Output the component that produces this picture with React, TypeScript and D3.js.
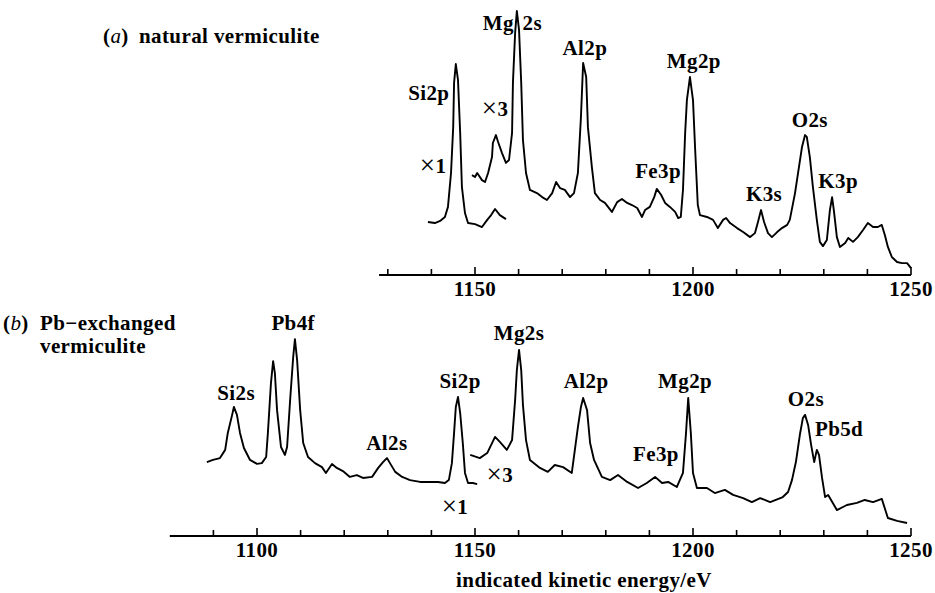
import * as d3 from "d3";

// kinetic energy (eV) vs intensity (a.u.)
// (a) natural vermiculite, x1 trace around Si2p
const natX1: [number, number][] = [
  [1139.2, 20.0], [1140.8, 19.6], [1142.0, 20.4], [1143.1, 21.9], [1143.8, 25.7],
  [1144.5, 38.5], [1145.0, 55.8], [1145.2, 72.5], [1145.6, 79.6], [1146.1, 73.6],
  [1146.6, 53.6], [1147.0, 33.2], [1147.7, 23.4], [1148.4, 19.6], [1150.0, 19.2],
  [1151.6, 18.1], [1152.8, 20.8], [1153.7, 22.6], [1154.6, 24.9], [1155.7, 22.6],
  [1157.1, 21.1],
];

// (a) natural vermiculite, x3 trace
const natX3: [number, number][] = [
  [1149.3, 37.7], [1150.0, 37.0], [1150.5, 38.5], [1151.6, 35.8], [1152.3, 35.1],
  [1153.0, 38.5], [1153.9, 44.5], [1154.1, 49.8], [1154.8, 52.8], [1155.3, 50.2],
  [1156.2, 46.0], [1157.1, 42.3], [1157.8, 43.4], [1158.5, 53.6], [1158.7, 72.5],
  [1159.2, 91.3], [1159.6, 99.6], [1160.1, 92.5], [1160.6, 72.5], [1161.0, 50.9],
  [1161.7, 38.5], [1162.6, 32.1], [1164.2, 30.9], [1165.4, 29.4], [1166.5, 28.3],
  [1167.7, 30.9], [1168.6, 35.1], [1169.5, 32.8], [1170.6, 32.1], [1171.8, 29.4],
  [1172.7, 30.9], [1173.6, 38.5], [1174.3, 59.6], [1174.8, 80.0], [1175.5, 74.7],
  [1175.9, 55.8], [1176.8, 40.8], [1177.5, 30.9], [1178.7, 28.3], [1179.8, 27.2],
  [1181.4, 23.8], [1182.6, 27.5], [1183.7, 28.7], [1184.9, 27.2], [1186.0, 26.4],
  [1187.2, 25.3], [1188.3, 21.9], [1189.0, 24.5], [1190.1, 25.7], [1191.1, 29.4],
  [1191.7, 32.5], [1192.7, 30.2], [1193.6, 27.2], [1194.7, 25.7], [1195.9, 23.8],
  [1196.6, 21.5], [1197.2, 21.9], [1197.7, 32.1], [1198.2, 53.6], [1198.6, 66.0],
  [1199.3, 74.7], [1200.0, 66.0], [1200.5, 47.2], [1201.1, 26.4], [1201.6, 22.6],
  [1203.2, 21.9], [1204.6, 20.8], [1205.7, 17.7], [1206.9, 20.8], [1207.6, 21.5],
  [1208.5, 19.6], [1210.1, 17.7], [1211.5, 16.2], [1213.1, 14.3], [1214.2, 15.8],
  [1214.9, 20.0], [1215.6, 24.5], [1216.3, 20.0], [1217.2, 15.8], [1218.1, 14.3],
  [1219.3, 16.2], [1220.4, 17.7], [1221.6, 18.9], [1222.2, 20.8], [1223.4, 30.9],
  [1224.1, 38.5], [1225.0, 48.3], [1225.7, 52.8], [1226.1, 52.1], [1226.8, 44.5],
  [1227.5, 33.2], [1228.4, 20.8], [1229.1, 12.5], [1229.8, 10.9], [1230.7, 13.2],
  [1231.4, 24.5], [1231.9, 29.4], [1232.3, 24.5], [1233.0, 14.3], [1233.7, 10.6],
  [1234.9, 12.1], [1235.6, 14.0], [1236.7, 12.5], [1237.8, 14.3], [1239.0, 17.0],
  [1240.1, 19.6], [1241.3, 18.1], [1242.4, 18.1], [1243.3, 18.9], [1244.0, 15.1],
  [1244.7, 10.6], [1245.6, 6.8], [1246.8, 4.9], [1247.9, 4.5], [1249.1, 4.5],
  [1250.0, 2.6],
];

// (b) Pb-exchanged vermiculite, x1 trace
const pbX1: [number, number][] = [
  [1088.5, 27.9], [1089.9, 28.7], [1091.5, 29.4], [1092.7, 32.5], [1093.3, 38.9],
  [1094.3, 45.7], [1094.7, 48.7], [1095.4, 45.7], [1096.1, 38.9], [1097.0, 33.2],
  [1098.4, 28.7], [1100.0, 27.2], [1101.1, 27.5], [1102.1, 29.8], [1102.5, 38.9],
  [1103.2, 57.7], [1103.7, 66.0], [1104.1, 61.5], [1104.6, 47.5], [1105.5, 33.6],
  [1106.4, 30.6], [1106.9, 33.6], [1107.6, 51.3], [1108.3, 67.5], [1108.7, 74.3],
  [1109.2, 66.4], [1109.9, 47.5], [1110.6, 35.1], [1111.7, 29.8], [1113.3, 27.5],
  [1114.9, 26.0], [1115.8, 23.8], [1117.2, 27.2], [1118.3, 25.7], [1119.7, 24.5],
  [1121.3, 22.3], [1122.9, 23.0], [1124.3, 21.9], [1126.4, 22.3], [1127.8, 25.7],
  [1128.9, 27.9], [1129.8, 29.4], [1130.5, 27.5], [1131.7, 24.2], [1133.3, 22.3],
  [1135.1, 21.1], [1137.4, 20.4], [1139.7, 20.4], [1141.5, 20.4], [1143.1, 20.0],
  [1144.0, 21.1], [1144.7, 27.5], [1145.2, 38.9], [1145.6, 48.7], [1146.1, 52.5],
  [1146.6, 46.4], [1147.2, 35.1], [1147.7, 23.8], [1148.4, 20.0], [1149.5, 20.0],
  [1150.5, 19.6],
];

// (b) Pb-exchanged vermiculite, x3 trace
const pbX3: [number, number][] = [
  [1148.9, 30.6], [1151.1, 29.4], [1152.8, 31.3], [1154.6, 37.4], [1155.7, 35.5],
  [1157.3, 32.5], [1158.5, 36.2], [1159.2, 51.3], [1159.6, 62.6], [1160.1, 70.2],
  [1160.6, 62.6], [1161.0, 49.4], [1161.7, 36.2], [1162.6, 28.7], [1164.9, 25.7],
  [1166.7, 24.2], [1168.3, 26.8], [1170.2, 26.0], [1172.2, 23.8], [1173.6, 41.1],
  [1174.3, 48.7], [1174.8, 52.1], [1175.7, 47.5], [1176.4, 35.1], [1177.3, 28.7],
  [1179.1, 22.3], [1181.0, 21.1], [1182.8, 23.0], [1184.9, 20.4], [1187.4, 18.1],
  [1189.4, 20.0], [1191.3, 22.3], [1192.9, 20.0], [1194.3, 20.4], [1196.3, 18.5],
  [1197.7, 23.8], [1198.4, 38.9], [1198.9, 52.1], [1199.5, 38.9], [1200.0, 23.8],
  [1200.9, 18.1], [1203.2, 18.1], [1205.0, 16.2], [1207.3, 17.4], [1209.2, 15.5],
  [1211.5, 14.3], [1213.5, 12.8], [1215.4, 14.3], [1217.7, 12.8], [1220.6, 14.7],
  [1221.8, 16.6], [1222.7, 21.1], [1223.6, 27.9], [1224.5, 38.1], [1225.2, 44.5],
  [1225.7, 45.7], [1226.4, 41.9], [1227.1, 34.3], [1227.8, 27.9], [1228.4, 32.5],
  [1228.9, 30.6], [1229.6, 21.9], [1230.3, 14.7], [1231.0, 15.5], [1233.0, 9.8],
  [1235.3, 11.7], [1237.6, 12.5], [1239.4, 13.6], [1241.3, 12.8], [1243.3, 14.0],
  [1244.7, 6.8], [1246.8, 5.7], [1249.1, 4.9],
];

// peak labels: [text, energy, intensity at baseline]
const natLabels: [string, number, number][] = [
  ["Si2p", 1139.4, 66.0], ["Al2p", 1175.2, 83.0], ["Fe3p", 1192.0, 36.6],
  ["Mg2p", 1200.2, 78.1], ["K3s", 1216.3, 27.9], ["O2s", 1226.8, 55.8],
  ["K3p", 1233.3, 32.8],
];
// Mg2s label in (a) is split around its own peak
const natSplitLabel: [string, string, number, number, number] = ["Mg", "2s", 1158.9, 1160.9, 92.5];
const natScale: [string, number, number][] = [["3", 1154.6, 60.0], ["1", 1140.4, 38.5]];

const pbLabels: [string, number, number][] = [
  ["Si2s", 1095.2, 51.3], ["Pb4f", 1108.3, 77.7], ["Al2s", 1129.8, 32.5],
  ["Si2p", 1146.6, 55.8], ["Mg2s", 1160.1, 74.0], ["Al2p", 1175.5, 55.8],
  ["Fe3p", 1191.5, 28.3], ["Mg2p", 1198.2, 55.8], ["O2s", 1225.9, 49.1],
  ["Pb5d", 1233.5, 37.7],
];
const pbScale: [string, number, number][] = [["1", 1145.4, 8.3], ["3", 1155.7, 20.4]];

const natDomain = [1128, 1250];
const pbDomain = [1080, 1250];
const natTicks = d3.range(1130, 1251, 10);
const pbTicks = d3.range(1090, 1251, 10);
const natTickLabels = [1150, 1200, 1250];
const pbTickLabels = [1100, 1150, 1200, 1250];

const W = 935;
const H = 593;
const FONT = "Liberation Serif";
const FS = 21;
const LS = 0.4;

const x = d3.scaleLinear().domain([1150, 1250]).range([475, 911]);
const yA = d3.scaleLinear().domain([0, 100]).range([275, 10]);
const yB = d3.scaleLinear().domain([0, 100]).range([536, 271]);

const Axis = ({ domain, ticks, labels, y0 }) => (
  <g>
    <line x1={x(domain[0])} x2={x(domain[1])} y1={y0} y2={y0} stroke="#000" strokeWidth={2} />
    {ticks.map((t) => {
      const major = labels.includes(t);
      return (
        <line key={t} x1={x(t)} x2={x(t)} y1={y0} y2={y0 - (major ? 8 : 6)} stroke="#000" strokeWidth={1.6} />
      );
    })}
    {labels.map((t) => (
      <text key={"l" + t} x={x(t)} y={y0 + 21} textAnchor="middle" style={{ fontFamily: FONT, fontSize: FS, fontWeight: "bold", letterSpacing: LS }}>
        {t}
      </text>
    ))}
  </g>
);

const ScaleMark = ({ n, px, py }) => (
  <text x={px} y={py} textAnchor="middle">
    <tspan style={{ fontSize: 27, fontWeight: "normal" }} dy={1}>{"\u00d7"}</tspan>
    <tspan dy={-1}>{n}</tspan>
  </text>
);

export default function App() {
  const lineA = d3.line<[number, number]>().x((d) => x(d[0])).y((d) => yA(d[1]));
  const lineB = d3.line<[number, number]>().x((d) => x(d[0])).y((d) => yB(d[1]));

  return (
    <svg width={W} height={H} style={{ position: "absolute", left: 0, top: 0, background: "#fff" }}>
      <g style={{ fontFamily: FONT, fontSize: FS, fontWeight: "bold", letterSpacing: LS }} fill="#000">
        <text x={103} y={43}>
          (<tspan fontStyle="italic" fontWeight="normal">a</tspan>)
        </text>
        <text x={139} y={43}>natural vermiculite</text>
        <text x={3} y={330}>
          (<tspan fontStyle="italic" fontWeight="normal">b</tspan>)
        </text>
        <text x={40} y={330}>Pb{"\u2212"}exchanged</text>
        <text x={40} y={353}>vermiculite</text>
        {natLabels.map(([t, e, v], i) => (
          <text key={"a" + i} x={x(e)} y={yA(v)} textAnchor="middle">
            {t}
          </text>
        ))}
        <text x={x(natSplitLabel[2])} y={yA(natSplitLabel[4])} textAnchor="end">
          {natSplitLabel[0]}
        </text>
        <text x={x(natSplitLabel[3])} y={yA(natSplitLabel[4])} textAnchor="start">
          {natSplitLabel[1]}
        </text>
        {natScale.map(([n, e, v], i) => (
          <ScaleMark key={"sa" + i} n={n} px={x(e)} py={yA(v)} />
        ))}
        {pbLabels.map(([t, e, v], i) => (
          <text key={"b" + i} x={x(e)} y={yB(v)} textAnchor="middle">
            {t}
          </text>
        ))}
        {pbScale.map(([n, e, v], i) => (
          <ScaleMark key={"sb" + i} n={n} px={x(e)} py={yB(v)} />
        ))}
        <text x={x(1175)} y={587} textAnchor="middle">
          indicated kinetic energy/eV
        </text>
      </g>

      <g fill="none" stroke="#000" strokeWidth={1.9} strokeLinejoin="round">
        <path d={lineA(natX1)} />
        <path d={lineA(natX3)} />
        <path d={lineB(pbX1)} />
        <path d={lineB(pbX3)} />
      </g>

      <Axis domain={natDomain} ticks={natTicks} labels={natTickLabels} y0={275} />
      <Axis domain={pbDomain} ticks={pbTicks} labels={pbTickLabels} y0={536} />
    </svg>
  );
}
